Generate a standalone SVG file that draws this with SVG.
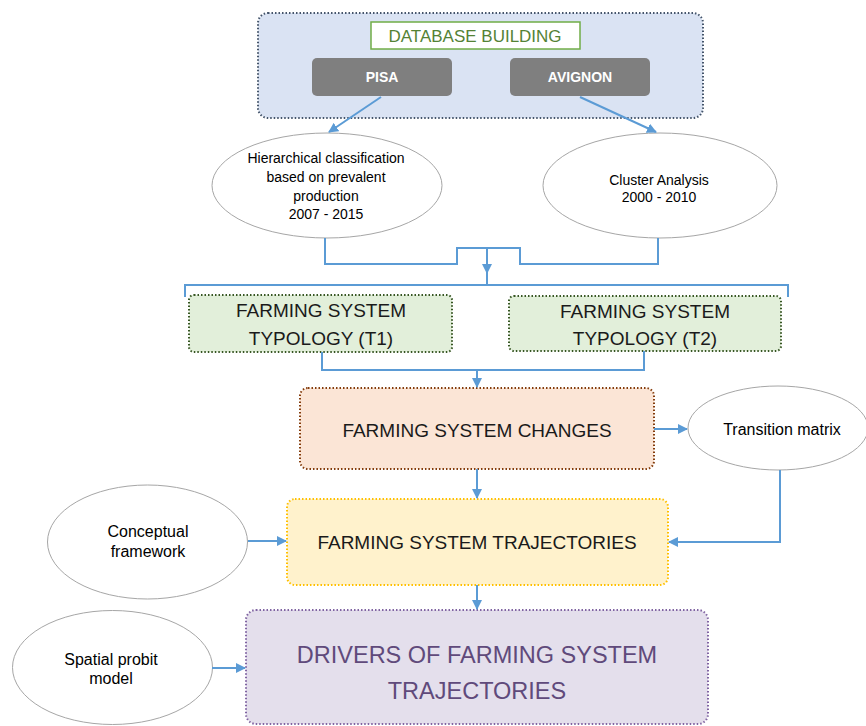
<svg xmlns="http://www.w3.org/2000/svg" width="866" height="726" viewBox="0 0 866 726">
<style>
text{font-family:"Liberation Sans","DejaVu Sans",sans-serif;text-anchor:middle}
.ell{fill:#fff;stroke:#a6a6a6;stroke-width:1}
.et{font-size:14px;fill:#000}
.el{font-size:16px;fill:#000}
.bt{font-size:19px;fill:#1a1a1a}
.con{fill:none;stroke:#5b9bd5;stroke-width:2}
.dot{stroke-width:2;stroke-dasharray:1.5 2}
</style>
<defs>
<marker id="ah" viewBox="0 0 10 10" refX="9" refY="5" markerWidth="5" markerHeight="5" orient="auto" markerUnits="strokeWidth">
<path d="M0,0 L10,5 L0,10 z" fill="#5b9bd5"/>
</marker>
</defs>
<rect width="866" height="726" fill="#fff"/>
<g id="database">
<rect x="258" y="13" width="445" height="105" rx="10" fill="#dae3f3" stroke="#44546a" class="dot"/>
<rect x="371" y="22" width="209" height="27" fill="#fff" stroke="#70ad47" stroke-width="1.5"/>
<text x="475" y="42" font-size="17" fill="#548235">DATABASE BUILDING</text>
</g>
<g id="pisa">
<rect x="312" y="58" width="140" height="38" rx="5" fill="#7f7f7f"/>
<text x="382" y="82" font-size="14" font-weight="bold" fill="#fff">PISA</text>
</g>
<g id="avignon">
<rect x="510" y="58" width="140" height="38" rx="5" fill="#7f7f7f"/>
<text x="580" y="82" font-size="14" font-weight="bold" fill="#fff">AVIGNON</text>
</g>
<g id="hierarchical">
<ellipse cx="327" cy="185.5" rx="115" ry="52.5" class="ell"/>
<text class="et" x="326" y="163">Hierarchical classification</text>
<text class="et" x="326" y="182">based on prevalent</text>
<text class="et" x="326" y="201">production</text>
<text class="et" x="326" y="219">2007 - 2015</text>
</g>
<g id="cluster">
<ellipse cx="660" cy="185.5" rx="117" ry="52.5" class="ell"/>
<text class="et" x="659" y="185">Cluster Analysis</text>
<text class="et" x="659" y="202">2000 - 2010</text>
</g>
<g id="t1">
<rect x="189" y="295" width="263" height="57" rx="5" fill="#e2efda" stroke="#375623" class="dot"/>
<text class="bt" x="321" y="317">FARMING SYSTEM</text>
<text class="bt" x="321" y="345">TYPOLOGY (T1)</text>
</g>
<g id="t2">
<rect x="509" y="296" width="272" height="55" rx="5" fill="#e2efda" stroke="#375623" class="dot"/>
<text class="bt" x="645" y="318">FARMING SYSTEM</text>
<text class="bt" x="645" y="345">TYPOLOGY (T2)</text>
</g>
<g id="changes">
<rect x="300" y="388" width="354" height="81" rx="8" fill="#fbe5d6" stroke="#843c0c" class="dot"/>
<text class="bt" x="477" y="437">FARMING SYSTEM CHANGES</text>
</g>
<g id="transition">
<ellipse cx="778" cy="428" rx="90" ry="42" class="ell"/>
<text class="el" x="782" y="435">Transition matrix</text>
</g>
<g id="trajectories">
<rect x="287" y="499" width="381" height="86" rx="8" fill="#fff2cc" stroke="#ffc000" class="dot"/>
<text class="bt" x="477" y="549">FARMING SYSTEM TRAJECTORIES</text>
</g>
<g id="conceptual">
<ellipse cx="147.5" cy="542" rx="100" ry="57" class="ell"/>
<text class="el" x="148" y="537">Conceptual</text>
<text class="el" x="148" y="557">framework</text>
</g>
<g id="drivers">
<rect x="246" y="610" width="462" height="114" rx="10" fill="#e4dfec" stroke="#8064a2" class="dot"/>
<text x="477" y="663" font-size="23.5" fill="#604a7b">DRIVERS OF FARMING SYSTEM</text>
<text x="477" y="699" font-size="23.5" fill="#604a7b">TRAJECTORIES</text>
</g>
<g id="spatial">
<ellipse cx="112.5" cy="667.5" rx="100" ry="57" class="ell"/>
<text class="el" x="111" y="665">Spatial probit</text>
<text class="el" x="111" y="684">model</text>
</g>
<g id="connectors">
<path class="con" d="M381,97 L329,132" marker-end="url(#ah)"/>
<path class="con" d="M580,97 L656,132" marker-end="url(#ah)"/>
<path class="con" d="M325,238 V264 H457 V248 H520 V264 H658 V238"/>
<path class="con" d="M487,248 V273" marker-end="url(#ah)"/>
<path class="con" d="M185,297 V285 H788 V297"/>
<path class="con" d="M487,273 V285"/>
<path class="con" d="M322,352 V370 H644 V351"/>
<path class="con" d="M477,370 V387" marker-end="url(#ah)"/>
<path class="con" d="M654,429 H687" marker-end="url(#ah)"/>
<path class="con" d="M477,469 V498" marker-end="url(#ah)"/>
<path class="con" d="M780,470 V542 H669" marker-end="url(#ah)"/>
<path class="con" d="M248,541 H286" marker-end="url(#ah)"/>
<path class="con" d="M477,585 V609" marker-end="url(#ah)"/>
<path class="con" d="M212,668 H245" marker-end="url(#ah)"/>
</g>
</svg>
